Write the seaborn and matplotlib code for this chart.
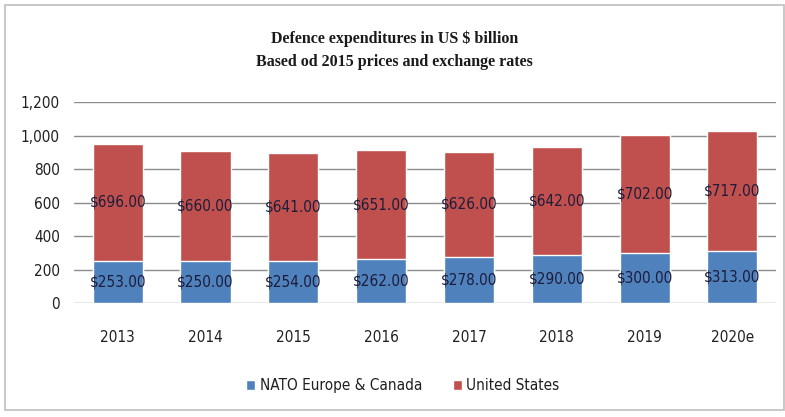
import matplotlib
matplotlib.use("Agg")
import matplotlib.pyplot as plt
import seaborn as sns
import pandas as pd
from matplotlib.patches import Rectangle, Patch

years = ["2013", "2014", "2015", "2016", "2017", "2018", "2019", "2020e"]
nato_europe_canada = [253, 250, 254, 262, 278, 290, 300, 313]
united_states = [696, 660, 641, 651, 626, 642, 702, 717]
y_ticks = [0, 200, 400, 600, 800, 1000, 1200]

BLUE = "#4F81BD"
RED = "#C0504D"

sns.set_theme(style="white")
plt.rcParams["font.family"] = ["DejaVu Sans"]
plt.rcParams["font.stretch"] = "condensed"

df = pd.DataFrame({
    "year": years,
    "nato": nato_europe_canada,
    "us": united_states,
})
df["total"] = df["nato"] + df["us"]

fig = plt.figure(figsize=(7.85, 4.17), dpi=100)
fig.patch.set_facecolor("white")
fig.patches.append(Rectangle((0.006, 0.017), 0.993, 0.97, transform=fig.transFigure,
                             fill=False, edgecolor="#BFBFBF", linewidth=1.2))

ax = fig.add_axes([0.094, 0.273, 0.895, 0.482])

# stacked bars: full height in red, NATO share drawn over it in blue
sns.barplot(data=df, x="year", y="total", color=RED, width=0.57,
            saturation=1, ax=ax, zorder=3)
sns.barplot(data=df, x="year", y="nato", color=BLUE, width=0.57,
            saturation=1, ax=ax, zorder=4)

for i, (n, u) in enumerate(zip(df["nato"], df["us"])):
    ax.text(i, n / 2, f"${n:.2f}", ha="center", va="center", fontsize=11,
            color="#1C1C3A", zorder=5)
    ax.text(i, n + u / 2, f"${u:.2f}", ha="center", va="center", fontsize=11,
            color="#1C1C3A", zorder=5)

ax.set_ylim(0, 1200)
ax.set_xlim(-0.5, len(years) - 0.5)
ax.set_yticks(y_ticks)
ax.set_yticklabels([f"{v:,}" for v in y_ticks])
ax.yaxis.grid(True, color="#8C8C8C", linewidth=1.0, zorder=0)
ax.set_axisbelow(True)
for s in ax.spines.values():
    s.set_visible(False)
ax.tick_params(axis="y", length=0, pad=10, labelsize=11, labelcolor="#1F1F1F")
ax.tick_params(axis="x", length=0, pad=19, labelsize=11, labelcolor="#1F1F1F")
ax.set_xlabel("")
ax.set_ylabel("")

fig.text(0.503, 0.908, "Defence expenditures in US $ billion", ha="center", va="center",
         fontsize=11.5, fontweight="bold", color="#1A1A1A",
         family=["Liberation Serif", "DejaVu Serif"])
fig.text(0.503, 0.851, "Based od 2015 prices and exchange rates", ha="center", va="center",
         fontsize=11.5, fontweight="bold", color="#1A1A1A",
         family=["Liberation Serif", "DejaVu Serif"])

handles = [Patch(facecolor=BLUE, label="NATO Europe & Canada"),
           Patch(facecolor=RED, label="United States")]
leg = fig.legend(handles=handles, loc="center", bbox_to_anchor=(0.513, 0.075), ncol=2,
                 frameon=False, fontsize=11, handlelength=0.6, handleheight=0.6,
                 handletextpad=0.3, columnspacing=2.0)
for t in leg.get_texts():
    t.set_color("#1F1F1F")

fig.savefig("out.png", dpi=100)
